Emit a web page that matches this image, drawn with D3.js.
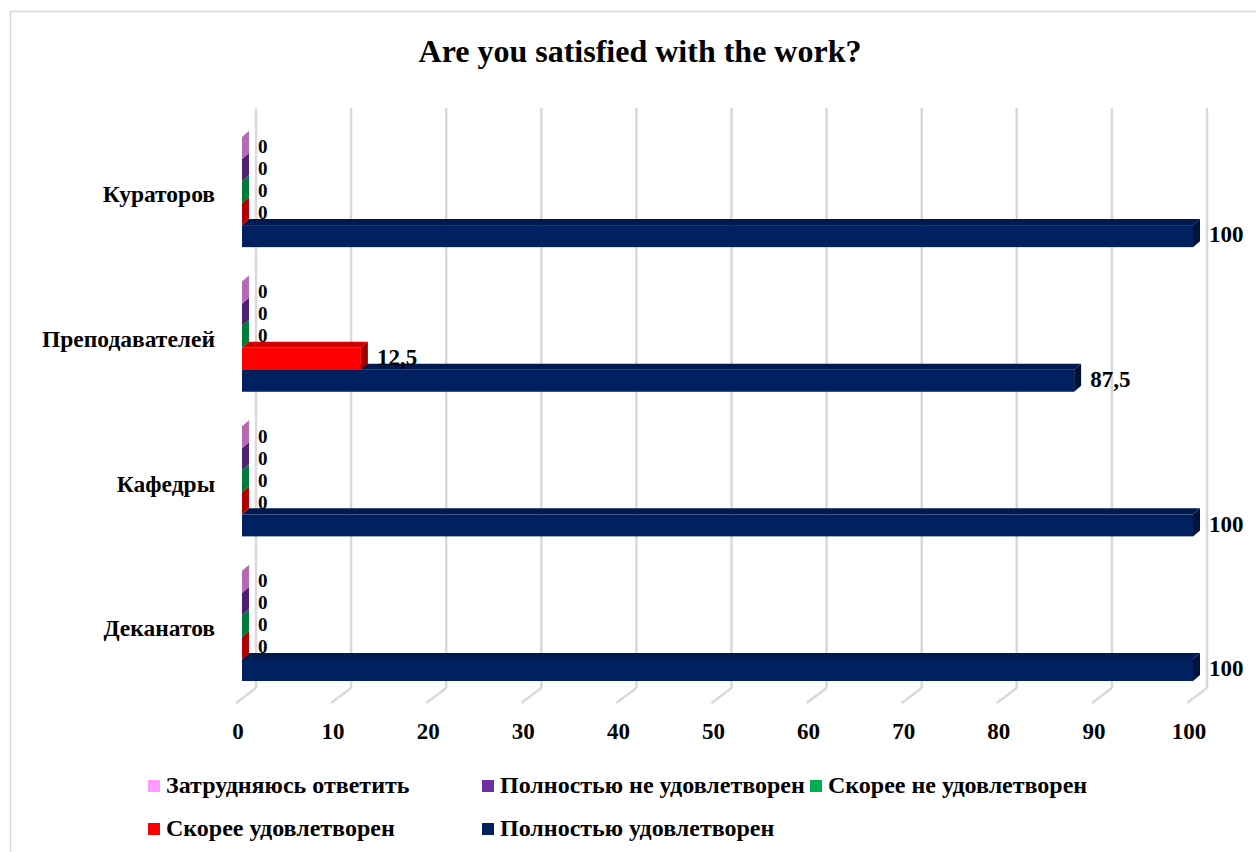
<!DOCTYPE html>
<html><head><meta charset="utf-8">
<script src="https://cdn.jsdelivr.net/npm/d3@7"></script>
<style>
html,body{margin:0;padding:0;background:#fff;}
svg{display:block;}
text{font-family:"Liberation Serif","Times New Roman",serif;font-weight:bold;fill:#000;}
</style></head>
<body>
<svg id="chart" width="1256" height="852"></svg>
<script>
// ---- data ----
const categories = ["Кураторов", "Преподавателей", "Кафедры", "Деканатов"];
const seriesNames = ["Затрудняюсь ответить", "Полностью не удовлетворен", "Скорее не удовлетворен", "Скорее удовлетворен", "Полностью удовлетворен"];
const seriesColors = ["#ff99ff", "#7030a0", "#00b050", "#ff0000", "#002060"];
const valZatrud = [0, 0, 0, 0];
const valPolnNe = [0, 0, 0, 0];
const valSkorNe = [0, 0, 0, 0];
const valSkorUd = [0, 12.5, 0, 0];
const valPolnUd = [100, 87.5, 100, 100];
const seriesValues = [valZatrud, valPolnNe, valSkorNe, valSkorUd, valPolnUd];
const tickValues = [0, 10, 20, 30, 40, 50, 60, 70, 80, 90, 100];
const titleText = "Are you satisfied with the work?";

// ---- layout ----
const svg = d3.select("#chart");
svg.append("rect").attr("x", 10.5).attr("y", 11.5).attr("width", 1260).attr("height", 860)
  .attr("fill", "#fff").attr("stroke", "#d9d9d9").attr("stroke-width", 1.5);

svg.append("text").attr("x", 640).attr("y", 62).attr("text-anchor", "middle")
  .style("font-size", "32px").text(titleText);

const xBack = d3.scaleLinear().domain([0, 100]).range([256, 1207]);
const floorDx = -20, floorDy = 15;
const barShift = -14;
const xBar = v => xBack(v) + barShift;
const dX = 7, dY = -6;
const gridTop = 108, gridBottom = 688;

// gridlines (back wall)
svg.append("g").selectAll("line").data(tickValues).join("line")
  .attr("x1", d => xBack(d)).attr("x2", d => xBack(d))
  .attr("y1", gridTop).attr("y2", gridBottom)
  .attr("stroke", "#d9d9d9").attr("stroke-width", 2.5);
// floor tick lines
svg.append("g").selectAll("line").data(tickValues).join("line")
  .attr("x1", d => xBack(d)).attr("y1", gridBottom)
  .attr("x2", d => xBack(d) + floorDx).attr("y2", gridBottom + floorDy)
  .attr("stroke", "#d9d9d9").attr("stroke-width", 2.5);
// tick labels
svg.append("g").selectAll("text").data(tickValues).join("text")
  .attr("x", d => xBack(d) + floorDx + 2).attr("y", 739).attr("text-anchor", "middle")
  .style("font-size", "23px").text(d => d);

const yCat = d3.scaleBand().domain(categories).range([137, 681]).paddingInner(0.2385).paddingOuter(0);
const ySer = d3.scaleBand().domain(seriesNames).range([0, yCat.bandwidth()]).padding(0);

function shade(c, k) { const r = d3.rgb(c); return d3.rgb(r.r * k, r.g * k, r.b * k).formatHex(); }

// category labels
svg.append("g").selectAll("text").data(categories).join("text")
  .attr("x", 215).attr("y", d => yCat(d) + yCat.bandwidth() / 2 + 5)
  .attr("text-anchor", "end").attr("dominant-baseline", "middle")
  .style("font-size", "23.5px").text(d => d);

const fmt = v => String(v).replace(".", ",");
const gBars = svg.append("g");
const gLabels = svg.append("g");
categories.forEach((cat, ci) => {
  // draw from bottom series up so upper front faces cover lower top faces
  for (let si = seriesNames.length - 1; si >= 0; si--) {
    const v = seriesValues[si][ci];
    const col = seriesColors[si];
    const y0 = yCat(cat) + ySer(seriesNames[si]);
    const h = ySer.bandwidth();
    const x0 = xBar(0), x1 = xBar(v);
    const g = gBars.append("g");
    if (v > 0) {
      // top face
      g.append("path").attr("d", `M${x0},${y0} L${x0 + dX},${y0 + dY} L${x1 + dX},${y0 + dY} L${x1},${y0} Z`)
        .attr("fill", shade(col, 0.82));
      // front face
      g.append("rect").attr("x", x0).attr("y", y0).attr("width", x1 - x0).attr("height", h).attr("fill", col);
    }
    // side (end) face
    g.append("path").attr("d", `M${x1},${y0} L${x1 + dX},${y0 + dY} L${x1 + dX},${y0 + h + dY} L${x1},${y0 + h} Z`)
      .attr("fill", shade(col, v > 0 ? 0.6 : 0.7));
    gLabels.append("text").attr("x", x1 + dX + 9).attr("y", y0 + h / 2 + 1)
      .attr("dominant-baseline", "middle").style("font-size", v > 0 ? "23px" : "19px").text(fmt(v));
  }
});

// legend
const legendItems = [
  { name: seriesNames[0], color: seriesColors[0], x: 148, y: 786 },
  { name: seriesNames[1], color: seriesColors[1], x: 482, y: 786 },
  { name: seriesNames[2], color: seriesColors[2], x: 810, y: 786 },
  { name: seriesNames[3], color: seriesColors[3], x: 148, y: 829 },
  { name: seriesNames[4], color: seriesColors[4], x: 482, y: 829 }
];
const lg = svg.append("g").selectAll("g").data(legendItems).join("g");
lg.append("rect").attr("x", d => d.x).attr("y", d => d.y - 6).attr("width", 12).attr("height", 12).attr("fill", d => d.color);
lg.append("text").attr("x", d => d.x + 18).attr("y", d => d.y + 1).attr("dominant-baseline", "middle")
  .style("font-size", "24px").text(d => d.name);
</script>
</body></html>
